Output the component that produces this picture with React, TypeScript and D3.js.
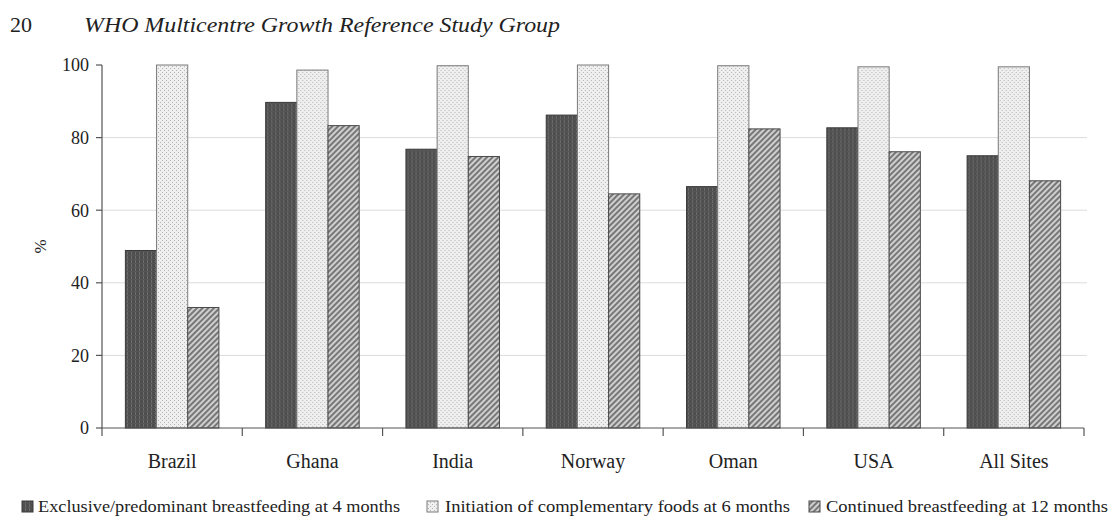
import React, { useEffect } from "react";
import * as d3 from "d3";

const categories = ["Brazil", "Ghana", "India", "Norway", "Oman", "USA", "All Sites"];
const seriesKeys = ["exclusive", "complementary", "continued"];
const seriesLabels = [
  "Exclusive/predominant breastfeeding at 4 months",
  "Initiation of complementary foods at 6 months",
  "Continued breastfeeding at 12 months",
];
const exclusive4m = [48.9, 89.7, 76.8, 86.2, 66.5, 82.7, 75.0];
const complementary6m = [100, 98.6, 99.8, 100, 99.8, 99.5, 99.5];
const continued12m = [33.2, 83.3, 74.8, 64.5, 82.4, 76.1, 68.1];
const yTicks = [0, 20, 40, 60, 80, 100];
const gridTicks = [20, 40, 60, 80];

const W = 1112;
const H = 517;
const margin = { top: 65, right: 28, bottom: 89, left: 102 };

const fills: Record<string, string> = {
  exclusive: "url(#patDark)",
  complementary: "url(#patDots)",
  continued: "url(#patHatch)",
};
const strokes: Record<string, string> = {
  exclusive: "#3a3a3a",
  complementary: "#7a7a7a",
  continued: "#4a4a4a",
};

const App: React.FC = () => {
  useEffect(() => {
    document.body.style.margin = "0";
  }, []);

  const x0 = d3
    .scaleBand()
    .domain(categories)
    .range([margin.left, W - margin.right])
    .paddingInner(0)
    .paddingOuter(0);

  const x1 = d3
    .scaleBand()
    .domain(seriesKeys)
    .range([0, x0.bandwidth()])
    .paddingInner(0)
    .paddingOuter(0.75);

  const y = d3
    .scaleLinear()
    .domain([0, 100])
    .range([H - margin.bottom, margin.top]);

  const rows = categories.map((c, i) => ({
    cat: c,
    values: [
      { key: "exclusive", value: exclusive4m[i] },
      { key: "complementary", value: complementary6m[i] },
      { key: "continued", value: continued12m[i] },
    ],
  }));

  const xTickPos = [...categories.map((c) => x0(c) || 0), W - margin.right];
  const axisColor = "#555";
  const font = "'Liberation Serif', 'Times New Roman', serif";

  const legendItems = [
    { key: "exclusive", sx: 22, tx: 38, len: 362 },
    { key: "complementary", sx: 427, tx: 445, len: 345 },
    { key: "continued", sx: 809, tx: 826, len: 282 },
  ];

  return (
    <svg width={W} height={H} style={{ display: "block", background: "#fff" }} fontFamily={font}>
      <defs>
        <pattern id="patDark" width="4" height="4" patternUnits="userSpaceOnUse">
          <rect width="4" height="4" fill="#4e4e4e" />
          <rect x="1" width="1" height="4" fill="#6c6c6c" />
          <rect y="3" width="4" height="1" fill="#555" />
        </pattern>
        <pattern id="patDots" width="4" height="4" patternUnits="userSpaceOnUse">
          <rect width="4" height="4" fill="#efefef" />
          <rect x="0" y="0" width="1" height="1" fill="#b4b4b4" />
          <rect x="2" y="2" width="1" height="1" fill="#b4b4b4" />
        </pattern>
        <pattern
          id="patHatch"
          width="4"
          height="4"
          patternUnits="userSpaceOnUse"
          patternTransform="rotate(45)"
        >
          <rect width="4" height="4" fill="#cfcfcf" />
          <rect width="2" height="4" fill="#777" />
        </pattern>
      </defs>

      {/* header */}
      <text x={10} y={32} fontSize={22} fill="#222">20</text>
      <text x={84} y={32} fontSize={22} fontStyle="italic" fill="#222" textLength={476} lengthAdjust="spacingAndGlyphs">
        WHO Multicentre Growth Reference Study Group
      </text>

      {/* grid */}
      {gridTicks.map((t) => (
        <line key={t} x1={margin.left} x2={W - margin.right + 3} y1={y(t)} y2={y(t)} stroke="#dcdcdc" strokeWidth={1} />
      ))}

      {/* bars */}
      {rows.map((r) => (
        <g key={r.cat} transform={`translate(${x0(r.cat)},0)`}>
          {r.values.map((v) => (
            <rect
              key={v.key}
              x={x1(v.key)}
              y={y(v.value)}
              width={x1.bandwidth()}
              height={y(0) - y(v.value)}
              fill={fills[v.key]}
              stroke={strokes[v.key]}
              strokeWidth={1}
            />
          ))}
        </g>
      ))}

      {/* y axis */}
      <line x1={margin.left} x2={margin.left} y1={y(0)} y2={y(100)} stroke={axisColor} strokeWidth={1.2} />
      {yTicks.map((t) => (
        <g key={t}>
          <line x1={margin.left - 6} x2={margin.left} y1={y(t)} y2={y(t)} stroke={axisColor} strokeWidth={1.2} />
          <text x={margin.left - 13} y={y(t)} dy="0.35em" textAnchor="end" fontSize={18} fill="#222">
            {t}
          </text>
        </g>
      ))}
      <text transform={`translate(40,${y(50)}) rotate(-90)`} textAnchor="middle" fontSize={17} fill="#222" dy="0.35em">
        %
      </text>

      {/* x axis */}
      <line x1={margin.left} x2={W - margin.right} y1={y(0)} y2={y(0)} stroke={axisColor} strokeWidth={1.2} />
      {xTickPos.map((p, i) => (
        <line key={i} x1={p} x2={p} y1={y(0)} y2={y(0) + 8} stroke={axisColor} strokeWidth={1.2} />
      ))}
      {categories.map((c) => (
        <text key={c} x={(x0(c) || 0) + x0.bandwidth() / 2} y={468} textAnchor="middle" fontSize={20} fill="#222">
          {c}
        </text>
      ))}

      {/* legend */}
      {legendItems.map((l, i) => (
        <g key={l.key}>
          <rect x={l.sx} y={501} width={11} height={11} fill={fills[l.key]} stroke={strokes[l.key]} strokeWidth={1} />
          <text x={l.tx} y={512} fontSize={17} fill="#222" textLength={l.len} lengthAdjust="spacingAndGlyphs">
            {seriesLabels[i]}
          </text>
        </g>
      ))}
    </svg>
  );
};

export default App;
